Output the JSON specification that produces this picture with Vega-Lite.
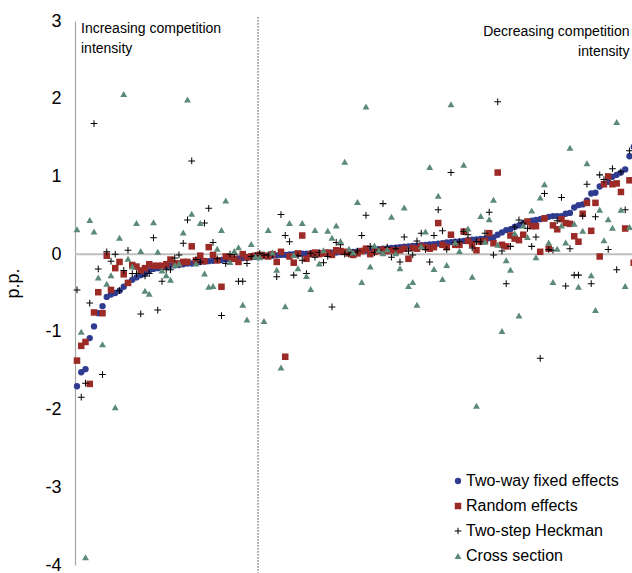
{
  "$schema": "https://vega.github.io/schema/vega-lite/v6.json",
  "width": 557,
  "height": 544,
  "autosize": {"type": "none"},
  "padding": {"left": 75, "top": 21, "right": 0, "bottom": 8},
  "config": {
    "view": {"stroke": null},
    "font": "Liberation Sans, Arial, sans-serif",
    "axisY": {"ticks": false, "grid": false, "labelFontSize": 18, "labelColor": "#000000", "labelPadding": 14,
      "domainColor": "#A6A6A6", "domainWidth": 1.2, "titleFontSize": 18, "titleFontWeight": "normal", "titleColor": "#000000"}
  },
  "layer": [
    {
      "data": {"values": [{"v": 0}]},
      "mark": {"type": "rule", "color": "#BFBFBF", "strokeWidth": 2},
      "encoding": {
        "y": {"field": "v", "type": "quantitative", "scale": {"domain": [-4, 3], "nice": false, "zero": false},
          "axis": {"title": "p.p.", "values": [-4, -3, -2, -1, 0, 1, 2, 3], "labelExpr": "'' + datum.value", "titleX": -53, "titleY": 262}}
      }
    },
    {
      "data": {"values": [{"i": 42.6, "v": 3.05, "v2": -4.1}]},
      "mark": {"type": "rule", "color": "#444444", "strokeWidth": 1, "strokeDash": [1.5, 1.5]},
      "encoding": {
        "x": {"field": "i", "type": "quantitative", "scale": {"domain": [-0.47, 130.6], "nice": false, "zero": false}, "axis": null},
        "y": {"field": "v", "type": "quantitative", "scale": {"domain": [-4, 3], "nice": false, "zero": false},
          "axis": {"title": "p.p.", "values": [-4, -3, -2, -1, 0, 1, 2, 3], "labelExpr": "'' + datum.value", "titleX": -53, "titleY": 262}},
        "y2": {"field": "v2"}
      }
    },
    {
      "data": {"values": [
{"i":0,"v":-1.70,"s":"fe"},{"i":1,"v":-1.52,"s":"fe"},{"i":2,"v":-1.48,"s":"fe"},{"i":3,"v":-1.08,"s":"fe"},{"i":4,"v":-0.93,"s":"fe"},{"i":5,"v":-0.76,"s":"fe"},{"i":6,"v":-0.67,"s":"fe"},{"i":7,"v":-0.55,"s":"fe"},{"i":8,"v":-0.52,"s":"fe"},{"i":9,"v":-0.50,"s":"fe"},
{"i":10,"v":-0.47,"s":"fe"},{"i":11,"v":-0.42,"s":"fe"},{"i":12,"v":-0.37,"s":"fe"},{"i":13,"v":-0.33,"s":"fe"},{"i":14,"v":-0.30,"s":"fe"},{"i":15,"v":-0.27,"s":"fe"},{"i":16,"v":-0.25,"s":"fe"},{"i":17,"v":-0.21,"s":"fe"},{"i":18,"v":-0.19,"s":"fe"},{"i":19,"v":-0.18,"s":"fe"},
{"i":20,"v":-0.17,"s":"fe"},{"i":21,"v":-0.16,"s":"fe"},{"i":22,"v":-0.15,"s":"fe"},{"i":23,"v":-0.145,"s":"fe"},{"i":24,"v":-0.14,"s":"fe"},{"i":25,"v":-0.13,"s":"fe"},{"i":26,"v":-0.12,"s":"fe"},{"i":27,"v":-0.12,"s":"fe"},{"i":28,"v":-0.11,"s":"fe"},{"i":29,"v":-0.10,"s":"fe"},
{"i":30,"v":-0.095,"s":"fe"},{"i":31,"v":-0.09,"s":"fe"},{"i":32,"v":-0.085,"s":"fe"},{"i":33,"v":-0.08,"s":"fe"},{"i":34,"v":-0.075,"s":"fe"},{"i":35,"v":-0.07,"s":"fe"},{"i":36,"v":-0.065,"s":"fe"},{"i":37,"v":-0.06,"s":"fe"},{"i":38,"v":-0.055,"s":"fe"},{"i":39,"v":-0.05,"s":"fe"},
{"i":40,"v":-0.045,"s":"fe"},{"i":41,"v":-0.04,"s":"fe"},{"i":42,"v":-0.035,"s":"fe"},{"i":43,"v":-0.03,"s":"fe"},{"i":44,"v":-0.025,"s":"fe"},{"i":45,"v":-0.02,"s":"fe"},{"i":46,"v":-0.02,"s":"fe"},{"i":47,"v":-0.015,"s":"fe"},{"i":48,"v":-0.01,"s":"fe"},{"i":49,"v":-0.01,"s":"fe"},
{"i":50,"v":-0.005,"s":"fe"},{"i":51,"v":0,"s":"fe"},{"i":52,"v":0,"s":"fe"},{"i":53,"v":0.005,"s":"fe"},{"i":54,"v":0.005,"s":"fe"},{"i":55,"v":0.01,"s":"fe"},{"i":56,"v":0.01,"s":"fe"},{"i":57,"v":0.015,"s":"fe"},{"i":58,"v":0.015,"s":"fe"},{"i":59,"v":0.02,"s":"fe"},
{"i":60,"v":0.02,"s":"fe"},{"i":61,"v":0.02,"s":"fe"},{"i":62,"v":0.025,"s":"fe"},{"i":63,"v":0.025,"s":"fe"},{"i":64,"v":0.025,"s":"fe"},{"i":65,"v":0.03,"s":"fe"},{"i":66,"v":0.035,"s":"fe"},{"i":67,"v":0.04,"s":"fe"},{"i":68,"v":0.045,"s":"fe"},{"i":69,"v":0.05,"s":"fe"},
{"i":70,"v":0.055,"s":"fe"},{"i":71,"v":0.065,"s":"fe"},{"i":72,"v":0.07,"s":"fe"},{"i":73,"v":0.075,"s":"fe"},{"i":74,"v":0.08,"s":"fe"},{"i":75,"v":0.085,"s":"fe"},{"i":76,"v":0.09,"s":"fe"},{"i":77,"v":0.095,"s":"fe"},{"i":78,"v":0.10,"s":"fe"},{"i":79,"v":0.105,"s":"fe"},
{"i":80,"v":0.11,"s":"fe"},{"i":81,"v":0.115,"s":"fe"},{"i":82,"v":0.12,"s":"fe"},{"i":83,"v":0.125,"s":"fe"},{"i":84,"v":0.13,"s":"fe"},{"i":85,"v":0.135,"s":"fe"},{"i":86,"v":0.14,"s":"fe"},{"i":87,"v":0.15,"s":"fe"},{"i":88,"v":0.155,"s":"fe"},{"i":89,"v":0.16,"s":"fe"},
{"i":90,"v":0.165,"s":"fe"},{"i":91,"v":0.17,"s":"fe"},{"i":92,"v":0.18,"s":"fe"},{"i":93,"v":0.185,"s":"fe"},{"i":94,"v":0.19,"s":"fe"},{"i":95,"v":0.195,"s":"fe"},{"i":96,"v":0.20,"s":"fe"},{"i":97,"v":0.205,"s":"fe"},{"i":98,"v":0.215,"s":"fe"},{"i":99,"v":0.25,"s":"fe"},
{"i":100,"v":0.28,"s":"fe"},{"i":101,"v":0.31,"s":"fe"},{"i":102,"v":0.32,"s":"fe"},{"i":103,"v":0.35,"s":"fe"},{"i":104,"v":0.37,"s":"fe"},{"i":105,"v":0.40,"s":"fe"},{"i":106,"v":0.415,"s":"fe"},{"i":107,"v":0.43,"s":"fe"},{"i":108,"v":0.44,"s":"fe"},{"i":109,"v":0.45,"s":"fe"},
{"i":110,"v":0.46,"s":"fe"},{"i":111,"v":0.48,"s":"fe"},{"i":112,"v":0.49,"s":"fe"},{"i":113,"v":0.49,"s":"fe"},{"i":114,"v":0.49,"s":"fe"},{"i":115,"v":0.52,"s":"fe"},{"i":116,"v":0.53,"s":"fe"},{"i":117,"v":0.60,"s":"fe"},{"i":118,"v":0.63,"s":"fe"},{"i":119,"v":0.64,"s":"fe"},
{"i":120,"v":0.69,"s":"fe"},{"i":121,"v":0.78,"s":"fe"},{"i":122,"v":0.79,"s":"fe"},{"i":123,"v":0.87,"s":"fe"},{"i":124,"v":0.90,"s":"fe"},{"i":125,"v":0.93,"s":"fe"},{"i":126,"v":0.995,"s":"fe"},{"i":127,"v":1.02,"s":"fe"},{"i":128,"v":1.05,"s":"fe"},{"i":129,"v":1.09,"s":"fe"},
{"i":130,"v":1.26,"s":"fe"},{"i":131,"v":1.38,"s":"fe"},
{"i":0,"v":-1.37,"s":"re"},{"i":1,"v":-1.18,"s":"re"},{"i":2,"v":-1.13,"s":"re"},{"i":3,"v":-1.67,"s":"re"},{"i":4,"v":-0.75,"s":"re"},{"i":5,"v":-0.49,"s":"re"},{"i":6,"v":-0.76,"s":"re"},{"i":7,"v":-0.02,"s":"re"},{"i":8,"v":-0.46,"s":"re"},{"i":9,"v":-0.18,"s":"re"},
{"i":10,"v":-0.10,"s":"re"},{"i":11,"v":-0.26,"s":"re"},{"i":12,"v":-0.37,"s":"re"},{"i":13,"v":-0.14,"s":"re"},{"i":14,"v":-0.16,"s":"re"},{"i":15,"v":-0.21,"s":"re"},{"i":16,"v":-0.18,"s":"re"},{"i":17,"v":-0.13,"s":"re"},{"i":18,"v":-0.15,"s":"re"},{"i":19,"v":-0.15,"s":"re"},
{"i":20,"v":-0.15,"s":"re"},{"i":21,"v":-0.13,"s":"re"},{"i":22,"v":-0.07,"s":"re"},{"i":23,"v":-0.12,"s":"re"},{"i":24,"v":-0.12,"s":"re"},{"i":25,"v":-0.10,"s":"re"},{"i":26,"v":-0.10,"s":"re"},{"i":27,"v":0.10,"s":"re"},{"i":28,"v":-0.08,"s":"re"},{"i":29,"v":-0.02,"s":"re"},
{"i":30,"v":-0.09,"s":"re"},{"i":31,"v":0.09,"s":"re"},{"i":32,"v":-0.01,"s":"re"},{"i":33,"v":-0.08,"s":"re"},{"i":34,"v":-0.42,"s":"re"},{"i":35,"v":-0.03,"s":"re"},{"i":36,"v":-0.04,"s":"re"},{"i":37,"v":-0.06,"s":"re"},{"i":38,"v":-0.10,"s":"re"},{"i":39,"v":0.0,"s":"re"},
{"i":40,"v":-0.04,"s":"re"},{"i":41,"v":-0.03,"s":"re"},{"i":42,"v":-0.02,"s":"re"},{"i":43,"v":-0.01,"s":"re"},{"i":44,"v":-0.02,"s":"re"},{"i":45,"v":-0.03,"s":"re"},{"i":46,"v":0.0,"s":"re"},{"i":47,"v":-0.10,"s":"re"},{"i":48,"v":0.03,"s":"re"},{"i":49,"v":-1.32,"s":"re"},
{"i":50,"v":-0.03,"s":"re"},{"i":51,"v":-0.11,"s":"re"},{"i":52,"v":0.01,"s":"re"},{"i":53,"v":0.24,"s":"re"},{"i":54,"v":-0.06,"s":"re"},{"i":55,"v":0.0,"s":"re"},{"i":56,"v":0.02,"s":"re"},{"i":57,"v":0.0,"s":"re"},{"i":58,"v":0.01,"s":"re"},{"i":59,"v":0.02,"s":"re"},
{"i":60,"v":-0.01,"s":"re"},{"i":61,"v":0.05,"s":"re"},{"i":62,"v":0.04,"s":"re"},{"i":63,"v":0.03,"s":"re"},{"i":64,"v":0.01,"s":"re"},{"i":65,"v":-0.01,"s":"re"},{"i":66,"v":0.01,"s":"re"},{"i":67,"v":0.04,"s":"re"},{"i":68,"v":0.07,"s":"re"},{"i":69,"v":0.0,"s":"re"},
{"i":70,"v":0.03,"s":"re"},{"i":71,"v":0.04,"s":"re"},{"i":72,"v":0.06,"s":"re"},{"i":73,"v":0.04,"s":"re"},{"i":74,"v":0.05,"s":"re"},{"i":75,"v":0.04,"s":"re"},{"i":76,"v":0.05,"s":"re"},{"i":77,"v":0.07,"s":"re"},{"i":78,"v":-0.06,"s":"re"},{"i":79,"v":0.08,"s":"re"},
{"i":80,"v":0.07,"s":"re"},{"i":81,"v":0.10,"s":"re"},{"i":82,"v":0.09,"s":"re"},{"i":83,"v":0.07,"s":"re"},{"i":84,"v":0.09,"s":"re"},{"i":85,"v":0.40,"s":"re"},{"i":86,"v":0.12,"s":"re"},{"i":87,"v":0.09,"s":"re"},{"i":88,"v":0.25,"s":"re"},{"i":89,"v":0.12,"s":"re"},
{"i":90,"v":0.12,"s":"re"},{"i":91,"v":0.29,"s":"re"},{"i":92,"v":0.17,"s":"re"},{"i":93,"v":0.13,"s":"re"},{"i":94,"v":0.05,"s":"re"},{"i":95,"v":0.16,"s":"re"},{"i":96,"v":0.17,"s":"re"},{"i":97,"v":0.27,"s":"re"},{"i":98,"v":0.14,"s":"re"},{"i":99,"v":1.05,"s":"re"},
{"i":100,"v":0.12,"s":"re"},{"i":101,"v":0.10,"s":"re"},{"i":102,"v":0.24,"s":"re"},{"i":103,"v":0.20,"s":"re"},{"i":104,"v":0.18,"s":"re"},{"i":105,"v":0.25,"s":"re"},{"i":106,"v":0.42,"s":"re"},{"i":107,"v":0.36,"s":"re"},{"i":108,"v":0.36,"s":"re"},{"i":109,"v":0.03,"s":"re"},
{"i":110,"v":0.46,"s":"re"},{"i":111,"v":0.07,"s":"re"},{"i":112,"v":0.37,"s":"re"},{"i":113,"v":0.32,"s":"re"},{"i":114,"v":0.45,"s":"re"},{"i":115,"v":0.40,"s":"re"},{"i":116,"v":0.39,"s":"re"},{"i":117,"v":0.23,"s":"re"},{"i":118,"v":0.16,"s":"re"},{"i":119,"v":0.52,"s":"re"},
{"i":120,"v":0.66,"s":"re"},{"i":121,"v":0.30,"s":"re"},{"i":122,"v":0.66,"s":"re"},{"i":123,"v":-0.03,"s":"re"},{"i":124,"v":0.90,"s":"re"},{"i":125,"v":1.00,"s":"re"},{"i":126,"v":0.90,"s":"re"},{"i":127,"v":0.91,"s":"re"},{"i":128,"v":0.80,"s":"re"},{"i":129,"v":0.33,"s":"re"},
{"i":130,"v":0.95,"s":"re"},{"i":131,"v":-0.11,"s":"re"},
{"i":0,"v":-0.46,"s":"hk"},{"i":1,"v":-1.84,"s":"hk"},{"i":2,"v":-1.66,"s":"hk"},{"i":3,"v":-0.63,"s":"hk"},{"i":4,"v":1.68,"s":"hk"},{"i":5,"v":-0.19,"s":"hk"},{"i":6,"v":-1.55,"s":"hk"},{"i":7,"v":0.03,"s":"hk"},{"i":8,"v":-0.09,"s":"hk"},{"i":9,"v":0.0,"s":"hk"},
{"i":10,"v":-0.47,"s":"hk"},{"i":11,"v":-0.21,"s":"hk"},{"i":12,"v":0.05,"s":"hk"},{"i":13,"v":-0.25,"s":"hk"},{"i":14,"v":-0.25,"s":"hk"},{"i":15,"v":-0.77,"s":"hk"},{"i":16,"v":-0.28,"s":"hk"},{"i":17,"v":-0.25,"s":"hk"},{"i":18,"v":0.21,"s":"hk"},{"i":19,"v":-0.72,"s":"hk"},
{"i":20,"v":-0.35,"s":"hk"},{"i":21,"v":-0.20,"s":"hk"},{"i":22,"v":-0.20,"s":"hk"},{"i":23,"v":-0.05,"s":"hk"},{"i":24,"v":-0.01,"s":"hk"},{"i":25,"v":0.14,"s":"hk"},{"i":26,"v":0.44,"s":"hk"},{"i":27,"v":1.20,"s":"hk"},{"i":28,"v":-0.07,"s":"hk"},{"i":29,"v":-0.10,"s":"hk"},
{"i":30,"v":0.40,"s":"hk"},{"i":31,"v":0.59,"s":"hk"},{"i":32,"v":0.15,"s":"hk"},{"i":33,"v":-0.06,"s":"hk"},{"i":34,"v":-0.79,"s":"hk"},{"i":35,"v":-0.12,"s":"hk"},{"i":36,"v":0.0,"s":"hk"},{"i":37,"v":0.0,"s":"hk"},{"i":38,"v":-0.35,"s":"hk"},{"i":39,"v":-0.35,"s":"hk"},
{"i":40,"v":-0.12,"s":"hk"},{"i":41,"v":-0.03,"s":"hk"},{"i":42,"v":-0.02,"s":"hk"},{"i":43,"v":0.01,"s":"hk"},{"i":44,"v":-0.01,"s":"hk"},{"i":45,"v":-0.01,"s":"hk"},{"i":46,"v":0.0,"s":"hk"},{"i":47,"v":-0.29,"s":"hk"},{"i":48,"v":0.51,"s":"hk"},{"i":49,"v":0.24,"s":"hk"},
{"i":50,"v":0.16,"s":"hk"},{"i":51,"v":-0.27,"s":"hk"},{"i":52,"v":-0.02,"s":"hk"},{"i":53,"v":-0.08,"s":"hk"},{"i":54,"v":-0.25,"s":"hk"},{"i":55,"v":0.01,"s":"hk"},{"i":56,"v":-0.04,"s":"hk"},{"i":57,"v":0.02,"s":"hk"},{"i":58,"v":-0.11,"s":"hk"},{"i":59,"v":-0.03,"s":"hk"},
{"i":60,"v":-0.68,"s":"hk"},{"i":61,"v":0.15,"s":"hk"},{"i":62,"v":0.12,"s":"hk"},{"i":63,"v":0.0,"s":"hk"},{"i":64,"v":0.0,"s":"hk"},{"i":65,"v":0.02,"s":"hk"},{"i":66,"v":0.04,"s":"hk"},{"i":67,"v":0.24,"s":"hk"},{"i":68,"v":0.50,"s":"hk"},{"i":69,"v":0.10,"s":"hk"},
{"i":70,"v":0.02,"s":"hk"},{"i":71,"v":0.05,"s":"hk"},{"i":72,"v":0.65,"s":"hk"},{"i":73,"v":0.09,"s":"hk"},{"i":74,"v":-0.04,"s":"hk"},{"i":75,"v":0.07,"s":"hk"},{"i":76,"v":-0.10,"s":"hk"},{"i":77,"v":0.22,"s":"hk"},{"i":78,"v":0.04,"s":"hk"},{"i":79,"v":-0.01,"s":"hk"},
{"i":80,"v":0.17,"s":"hk"},{"i":81,"v":0.27,"s":"hk"},{"i":82,"v":0.06,"s":"hk"},{"i":83,"v":-0.10,"s":"hk"},{"i":84,"v":0.24,"s":"hk"},{"i":85,"v":0.57,"s":"hk"},{"i":86,"v":0.30,"s":"hk"},{"i":87,"v":0.06,"s":"hk"},{"i":88,"v":1.05,"s":"hk"},{"i":89,"v":0.15,"s":"hk"},
{"i":90,"v":0.16,"s":"hk"},{"i":91,"v":0.29,"s":"hk"},{"i":92,"v":0.25,"s":"hk"},{"i":93,"v":0.08,"s":"hk"},{"i":94,"v":0.16,"s":"hk"},{"i":95,"v":0.16,"s":"hk"},{"i":96,"v":0.27,"s":"hk"},{"i":97,"v":0.54,"s":"hk"},{"i":98,"v":-0.01,"s":"hk"},{"i":99,"v":1.96,"s":"hk"},
{"i":100,"v":0.04,"s":"hk"},{"i":101,"v":-0.38,"s":"hk"},{"i":102,"v":0.10,"s":"hk"},{"i":103,"v":0.35,"s":"hk"},{"i":104,"v":0.44,"s":"hk"},{"i":105,"v":0.40,"s":"hk"},{"i":106,"v":0.33,"s":"hk"},{"i":107,"v":0.10,"s":"hk"},{"i":108,"v":0.22,"s":"hk"},{"i":109,"v":-1.34,"s":"hk"},
{"i":110,"v":0.78,"s":"hk"},{"i":111,"v":0.06,"s":"hk"},{"i":112,"v":0.05,"s":"hk"},{"i":113,"v":0.43,"s":"hk"},{"i":114,"v":0.73,"s":"hk"},{"i":115,"v":-0.41,"s":"hk"},{"i":116,"v":0.07,"s":"hk"},{"i":117,"v":-0.27,"s":"hk"},{"i":118,"v":-0.27,"s":"hk"},{"i":119,"v":0.49,"s":"hk"},
{"i":120,"v":0.90,"s":"hk"},{"i":121,"v":-0.38,"s":"hk"},{"i":122,"v":0.48,"s":"hk"},{"i":123,"v":1.02,"s":"hk"},{"i":124,"v":0.96,"s":"hk"},{"i":125,"v":0.06,"s":"hk"},{"i":126,"v":1.10,"s":"hk"},{"i":127,"v":-0.20,"s":"hk"},{"i":128,"v":1.06,"s":"hk"},{"i":129,"v":0.57,"s":"hk"},
{"i":130,"v":1.33,"s":"hk"},
{"i":0,"v":0.32,"s":"cs"},{"i":1,"v":-1.00,"s":"cs"},{"i":2,"v":-3.90,"s":"cs"},{"i":3,"v":0.44,"s":"cs"},{"i":4,"v":0.29,"s":"cs"},{"i":5,"v":-0.30,"s":"cs"},{"i":6,"v":-1.16,"s":"cs"},{"i":7,"v":-0.38,"s":"cs"},{"i":8,"v":-0.27,"s":"cs"},{"i":9,"v":-1.97,"s":"cs"},
{"i":10,"v":0.21,"s":"cs"},{"i":11,"v":2.06,"s":"cs"},{"i":12,"v":-0.06,"s":"cs"},{"i":13,"v":-0.16,"s":"cs"},{"i":14,"v":0.40,"s":"cs"},{"i":15,"v":0.04,"s":"cs"},{"i":16,"v":-0.47,"s":"cs"},{"i":17,"v":-0.51,"s":"cs"},{"i":18,"v":0.41,"s":"cs"},{"i":19,"v":0.03,"s":"cs"},
{"i":20,"v":-0.21,"s":"cs"},{"i":21,"v":-0.27,"s":"cs"},{"i":22,"v":-0.33,"s":"cs"},{"i":23,"v":-0.14,"s":"cs"},{"i":24,"v":-0.12,"s":"cs"},{"i":25,"v":0.28,"s":"cs"},{"i":26,"v":1.99,"s":"cs"},{"i":27,"v":0.52,"s":"cs"},{"i":28,"v":-0.12,"s":"cs"},{"i":29,"v":0.40,"s":"cs"},
{"i":30,"v":-0.25,"s":"cs"},{"i":31,"v":-0.42,"s":"cs"},{"i":32,"v":-0.41,"s":"cs"},{"i":33,"v":0.07,"s":"cs"},{"i":34,"v":0.31,"s":"cs"},{"i":35,"v":0.69,"s":"cs"},{"i":36,"v":-0.10,"s":"cs"},{"i":37,"v":0.04,"s":"cs"},{"i":38,"v":0.09,"s":"cs"},{"i":39,"v":-0.65,"s":"cs"},
{"i":40,"v":-0.84,"s":"cs"},{"i":41,"v":0.13,"s":"cs"},{"i":42,"v":-0.03,"s":"cs"},{"i":43,"v":-0.04,"s":"cs"},{"i":44,"v":-0.86,"s":"cs"},{"i":45,"v":0.31,"s":"cs"},{"i":46,"v":0.02,"s":"cs"},{"i":47,"v":-0.20,"s":"cs"},{"i":48,"v":-1.46,"s":"cs"},{"i":49,"v":-0.67,"s":"cs"},
{"i":50,"v":0.40,"s":"cs"},{"i":51,"v":-0.01,"s":"cs"},{"i":52,"v":-0.18,"s":"cs"},{"i":53,"v":0.40,"s":"cs"},{"i":54,"v":-0.28,"s":"cs"},{"i":55,"v":-0.45,"s":"cs"},{"i":56,"v":0.31,"s":"cs"},{"i":57,"v":-0.12,"s":"cs"},{"i":58,"v":0.05,"s":"cs"},{"i":59,"v":0.30,"s":"cs"},
{"i":60,"v":0.21,"s":"cs"},{"i":61,"v":0.37,"s":"cs"},{"i":62,"v":0.17,"s":"cs"},{"i":63,"v":1.19,"s":"cs"},{"i":64,"v":0.07,"s":"cs"},{"i":65,"v":0.02,"s":"cs"},{"i":66,"v":0.67,"s":"cs"},{"i":67,"v":-0.36,"s":"cs"},{"i":68,"v":1.90,"s":"cs"},{"i":69,"v":-0.16,"s":"cs"},
{"i":70,"v":0.11,"s":"cs"},{"i":71,"v":0.05,"s":"cs"},{"i":72,"v":0.01,"s":"cs"},{"i":73,"v":0.06,"s":"cs"},{"i":74,"v":0.48,"s":"cs"},{"i":75,"v":0.01,"s":"cs"},{"i":76,"v":-0.18,"s":"cs"},{"i":77,"v":0.60,"s":"cs"},{"i":78,"v":-0.41,"s":"cs"},{"i":79,"v":-0.36,"s":"cs"},
{"i":80,"v":-0.65,"s":"cs"},{"i":81,"v":0.10,"s":"cs"},{"i":82,"v":0.29,"s":"cs"},{"i":83,"v":1.12,"s":"cs"},{"i":84,"v":-0.19,"s":"cs"},{"i":85,"v":0.75,"s":"cs"},{"i":86,"v":-0.32,"s":"cs"},{"i":87,"v":-0.14,"s":"cs"},{"i":88,"v":1.93,"s":"cs"},{"i":89,"v":0.15,"s":"cs"},
{"i":90,"v":0.04,"s":"cs"},{"i":91,"v":1.15,"s":"cs"},{"i":92,"v":0.33,"s":"cs"},{"i":93,"v":-0.29,"s":"cs"},{"i":94,"v":-1.95,"s":"cs"},{"i":95,"v":0.49,"s":"cs"},{"i":96,"v":0.16,"s":"cs"},{"i":97,"v":0.45,"s":"cs"},{"i":98,"v":0.70,"s":"cs"},{"i":99,"v":0.12,"s":"cs"},
{"i":100,"v":-0.99,"s":"cs"},{"i":101,"v":-0.08,"s":"cs"},{"i":102,"v":-0.20,"s":"cs"},{"i":103,"v":0.27,"s":"cs"},{"i":104,"v":-0.79,"s":"cs"},{"i":105,"v":0.37,"s":"cs"},{"i":106,"v":0.22,"s":"cs"},{"i":107,"v":0.56,"s":"cs"},{"i":108,"v":-0.04,"s":"cs"},{"i":109,"v":0.73,"s":"cs"},
{"i":110,"v":0.90,"s":"cs"},{"i":111,"v":0.15,"s":"cs"},{"i":112,"v":-0.36,"s":"cs"},{"i":113,"v":0.07,"s":"cs"},{"i":114,"v":0.37,"s":"cs"},{"i":115,"v":0.15,"s":"cs"},{"i":116,"v":1.37,"s":"cs"},{"i":117,"v":0.39,"s":"cs"},{"i":118,"v":-0.42,"s":"cs"},{"i":119,"v":0.30,"s":"cs"},
{"i":120,"v":1.17,"s":"cs"},{"i":121,"v":-0.27,"s":"cs"},{"i":122,"v":-0.72,"s":"cs"},{"i":123,"v":0.57,"s":"cs"},{"i":124,"v":0.18,"s":"cs"},{"i":125,"v":0.45,"s":"cs"},{"i":126,"v":0.34,"s":"cs"},{"i":127,"v":1.70,"s":"cs"},{"i":128,"v":0.57,"s":"cs"},{"i":129,"v":-0.41,"s":"cs"},
{"i":130,"v":0.35,"s":"cs"}
      ]},
      "mark": {"type": "point", "filled": true, "opacity": 1},
      "encoding": {
        "x": {"field": "i", "type": "quantitative", "scale": {"domain": [-0.47, 130.6], "nice": false, "zero": false}, "axis": null},
        "y": {"field": "v", "type": "quantitative", "scale": {"domain": [-4, 3], "nice": false, "zero": false},
          "axis": {"title": "p.p.", "values": [-4, -3, -2, -1, 0, 1, 2, 3], "labelExpr": "'' + datum.value", "titleX": -53, "titleY": 262}},
        "color": {"field": "s", "type": "nominal",
          "scale": {"domain": ["fe", "re", "hk", "cs"], "range": ["#2E3B8F", "#9C2A27", "#000000", "#5C8A79"]},
          "legend": {"title": null, "orient": "none", "legendX": 375, "legendY": 452, "padding": 0,
            "labelFontSize": 16, "labelColor": "#000000", "labelOffset": 0, "rowPadding": 9,
            "symbolSize": 28,
            "labelExpr": "datum.label == 'fe' ? 'Two-way fixed effects' : datum.label == 're' ? 'Random effects' : datum.label == 'hk' ? 'Two-step Heckman' : 'Cross section'"}},
        "shape": {"field": "s", "type": "nominal",
          "scale": {"domain": ["fe", "re", "hk", "cs"], "range": ["circle", "square", "M-1,-0.15H-0.15V-1H0.15V-0.15H1V0.15H0.15V1H-0.15V0.15H-1Z", "triangle-up"]},
          "legend": {"title": null, "orient": "none", "legendX": 375, "legendY": 452, "padding": 0,
            "labelFontSize": 16, "labelColor": "#000000", "labelOffset": 0, "rowPadding": 9,
            "symbolSize": 28,
            "labelExpr": "datum.label == 'fe' ? 'Two-way fixed effects' : datum.label == 're' ? 'Random effects' : datum.label == 'hk' ? 'Two-step Heckman' : 'Cross section'"}},
        "size": {"field": "s", "type": "nominal",
          "scale": {"domain": ["fe", "re", "hk", "cs"], "range": [40, 48, 56, 44]}, "legend": null}
      }
    },
    {
      "data": {"values": [{"i": 0.94, "v": 2.844, "t": "Increasing competition\nintensity"}]},
      "mark": {"type": "text", "align": "left", "baseline": "alphabetic", "lineBreak": "\n", "lineHeight": 20, "fontSize": 14, "color": "#000000"},
      "encoding": {
        "x": {"field": "i", "type": "quantitative", "scale": {"domain": [-0.47, 130.6], "nice": false, "zero": false}, "axis": null},
        "y": {"field": "v", "type": "quantitative", "scale": {"domain": [-4, 3], "nice": false, "zero": false},
          "axis": {"title": "p.p.", "values": [-4, -3, -2, -1, 0, 1, 2, 3], "labelExpr": "'' + datum.value", "titleX": -53, "titleY": 262}},
        "text": {"field": "t", "type": "nominal"}
      }
    },
    {
      "data": {"values": [{"i": 130.0, "v": 2.806, "t": "Decreasing competition\nintensity"}]},
      "mark": {"type": "text", "align": "right", "baseline": "alphabetic", "lineBreak": "\n", "lineHeight": 20, "fontSize": 14, "color": "#000000"},
      "encoding": {
        "x": {"field": "i", "type": "quantitative", "scale": {"domain": [-0.47, 130.6], "nice": false, "zero": false}, "axis": null},
        "y": {"field": "v", "type": "quantitative", "scale": {"domain": [-4, 3], "nice": false, "zero": false},
          "axis": {"title": "p.p.", "values": [-4, -3, -2, -1, 0, 1, 2, 3], "labelExpr": "'' + datum.value", "titleX": -53, "titleY": 262}},
        "text": {"field": "t", "type": "nominal"}
      }
    }
  ]
}
